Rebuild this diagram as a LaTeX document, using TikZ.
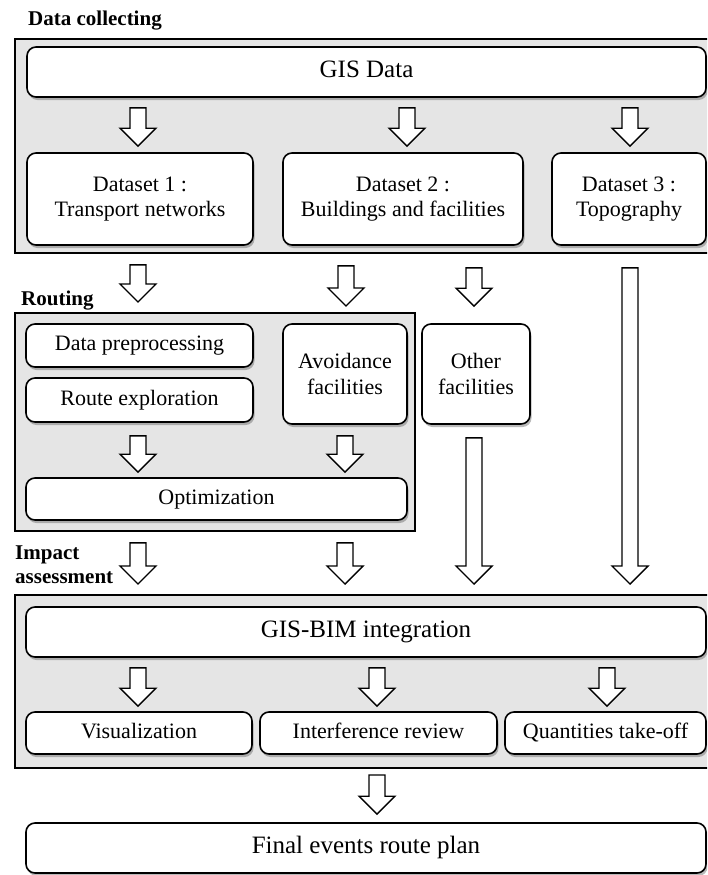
\documentclass[tikz,border=0pt]{standalone}
\usepackage{fontspec}
\setmainfont{Liberation Serif}
\usetikzlibrary{calc,shadows}
\tikzset{
  box/.style={draw=black, line width=1.6pt, rounded corners=9pt, fill=white,
    inner sep=0pt, align=center, font=\fontsize{22}{25.5}\selectfont,
    drop shadow={shadow xshift=1.5pt, shadow yshift=-3pt, fill=black!60, opacity=0.45}},
  oneline/.style={text height=15pt, text depth=5pt},
  bigbox/.style={box, oneline, font=\fontsize{25}{28}\selectfont, text height=17pt, text depth=5.5pt},
  group/.style={draw=black, line width=1.6pt, fill=gray!20},
  grouplabel/.style={inner sep=0pt, font=\fontsize{21}{24}\selectfont\bfseries, align=left},
  barrow/.style={draw=black, line width=1.4pt, fill=white, line join=miter},
}
% #1 = x (px), #2 = source anchor, #3 = gap below source, #4 = target anchor, #5 = gap above target
\newcommand\barr[5]{%
  \draw[barrow] let \p1=(#2), \p2=(#4) in
    (#1pt-8pt,\y1-#3pt) -- (#1pt+8pt,\y1-#3pt) -- (#1pt+8pt,\y2+#5pt+18pt)
    -- (#1pt+18pt,\y2+#5pt+18pt) -- (#1pt,\y2+#5pt) -- (#1pt-18pt,\y2+#5pt+18pt)
    -- (#1pt-8pt,\y2+#5pt+18pt) -- cycle;}
\begin{document}
\begin{tikzpicture}[x=1pt,y=-1pt]
\useasboundingbox (0,0) rectangle (707,875);
\clip (0,0) rectangle (707,875);
\fill[white] (0,0) rectangle (707,875);

% ---------- Data collecting ----------
\node[grouplabel, anchor=base west] (lbl1) at (28,26) {Data collecting};
\path[group] (15,39) rectangle (725,253);
\node[bigbox, minimum width=679pt, minimum height=50pt] (gis) at (366.5,72) {GIS Data};
\node[box, minimum width=226pt, minimum height=92pt] (d1) at (140,199) {Dataset 1 :\\Transport networks};
\node[box, minimum width=240pt, minimum height=92pt] (d2) at (403,199) {Dataset 2 :\\Buildings and facilities};
\node[box, minimum width=154pt, minimum height=92pt] (d3) at (629,199) {Dataset 3 :\\Topography};

% ---------- Routing ----------
\node[grouplabel, anchor=base west] (lbl2) at (21,305) {Routing};
\path[group] (15,313) rectangle (415,531);
\node[box, oneline, minimum width=227pt, minimum height=43pt] (dp) at (139.5,345.5) {Data preprocessing};
\node[box, oneline, minimum width=227pt, minimum height=44pt] (re) at (139.5,400) {Route exploration};
\node[box, minimum width=124pt, minimum height=100pt] (av) at (345,374) {Avoidance\\facilities};
\node[box, oneline, minimum width=381pt, minimum height=42pt] (opt) at (216.5,499) {Optimization};
\node[box, minimum width=108pt, minimum height=100pt] (of) at (476,374) {Other\\facilities};

% ---------- Impact assessment ----------
\node[grouplabel, anchor=north west] (lbl3) at (15,546) {Impact\\assessment};
\path[group] (15,595) rectangle (725,768);
\coordinate (impTop) at (15,595);
\coordinate (impBot) at (15,768);
\coordinate (rtTop) at (15,313);
\node[bigbox, minimum width=680pt, minimum height=50pt] (gb) at (366,632) {GIS-BIM integration};
\node[box, oneline, minimum width=226pt, minimum height=42pt] (vis) at (139,733) {Visualization};
\node[box, oneline, minimum width=237pt, minimum height=42pt] (ir) at (378.5,733) {Interference review};
\node[box, oneline, minimum width=201pt, minimum height=42pt] (qt) at (605.5,733) {Quantities take-off};

\node[bigbox, minimum width=680pt, minimum height=50pt] (fin) at (366,848) {Final events route plan};

% ---------- Block arrows ----------
\barr{138}{gis.south}{10}{d1.north}{6}
\barr{407}{gis.south}{10}{d2.north}{6}
\barr{630}{gis.south}{10}{d3.north}{6}

\barr{138}{d1.south}{19}{rtTop}{11}
\barr{346}{d2.south}{20}{rtTop}{7}
\barr{474}{d2.south}{22}{of.north}{17}
\barr{630}{d3.south}{22}{impTop}{11}

\barr{138}{re.south}{13}{opt.north}{5}
\barr{345}{av.south}{11}{opt.north}{5}
\barr{474}{of.south}{13}{impTop}{11}

\barr{138}{opt.south}{22}{impTop}{11}
\barr{345}{opt.south}{22}{impTop}{11}

\barr{138}{gb.south}{10}{vis.north}{5}
\barr{377}{gb.south}{10}{ir.north}{5}
\barr{607}{gb.south}{10}{qt.north}{5}

\barr{377}{impBot}{7}{fin.north}{8}
\end{tikzpicture}
\end{document}
